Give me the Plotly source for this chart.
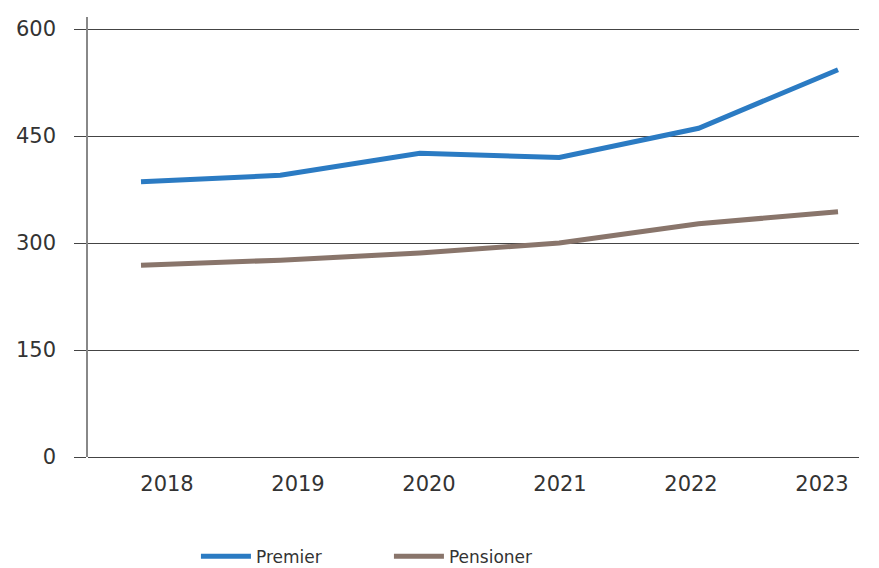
import plotly.graph_objects as go

years = ["2018", "2019", "2020", "2021", "2022", "2023"]
premier = [386, 395, 426, 420, 461, 543]
pensioner = [269, 276, 286, 300, 327, 344]
y_ticks = [0, 150, 300, 450, 600]

BLUE = "#2b7bc3"
BROWN = "#89756b"
FONT = "DejaVu Sans"

fig = go.Figure()
fig.add_trace(go.Scatter(x=list(range(len(years))), y=premier, name="Premier",
                         mode="lines", line=dict(color=BLUE, width=5)))
fig.add_trace(go.Scatter(x=list(range(len(years))), y=pensioner, name="Pensioner",
                         mode="lines", line=dict(color=BROWN, width=5)))

fig.update_layout(
    width=879, height=568,
    margin=dict(l=88, r=20, t=17, b=111, autoexpand=False),
    paper_bgcolor="white", plot_bgcolor="white",
    font=dict(family=FONT, color="#333333"),
    xaxis=dict(range=[-0.3802, 5.1506], showticklabels=False, showgrid=False,
               zeroline=False, showline=False, ticks=""),
    xaxis2=dict(overlaying="x", side="bottom", range=[-0.6031, 5.2824],
                tickmode="array", tickvals=list(range(len(years))), ticktext=years,
                showgrid=False, zeroline=False, showline=False, ticks="",
                tickfont=dict(size=21, color="#333333"), ticklabelstandoff=12),
    yaxis=dict(range=[0, 617], tickmode="array", tickvals=y_ticks,
               showgrid=True, gridcolor="#444444", gridwidth=1,
               zeroline=True, zerolinecolor="#444444", zerolinewidth=1,
               showline=True, linecolor="#888888", linewidth=1.5,
               ticks="outside", ticklen=12, tickcolor="#444444", tickwidth=1,
               tickfont=dict(size=21, color="#333333"), ticklabelstandoff=14),
    showlegend=True,
    legend=dict(orientation="h", x=0.14, xanchor="left", yref="container",
                y=0.02, yanchor="middle", itemwidth=50,
                font=dict(size=17, color="#333333"), entrywidth=128,
                entrywidthmode="pixels", bgcolor="rgba(0,0,0,0)"),
)
# invisible trace to activate xaxis2 ticks
fig.add_trace(go.Scatter(x=[0, 5], y=[None, None], xaxis="x2", showlegend=False,
                         hoverinfo="skip", mode="lines"))

fig.write_html("out.html")
